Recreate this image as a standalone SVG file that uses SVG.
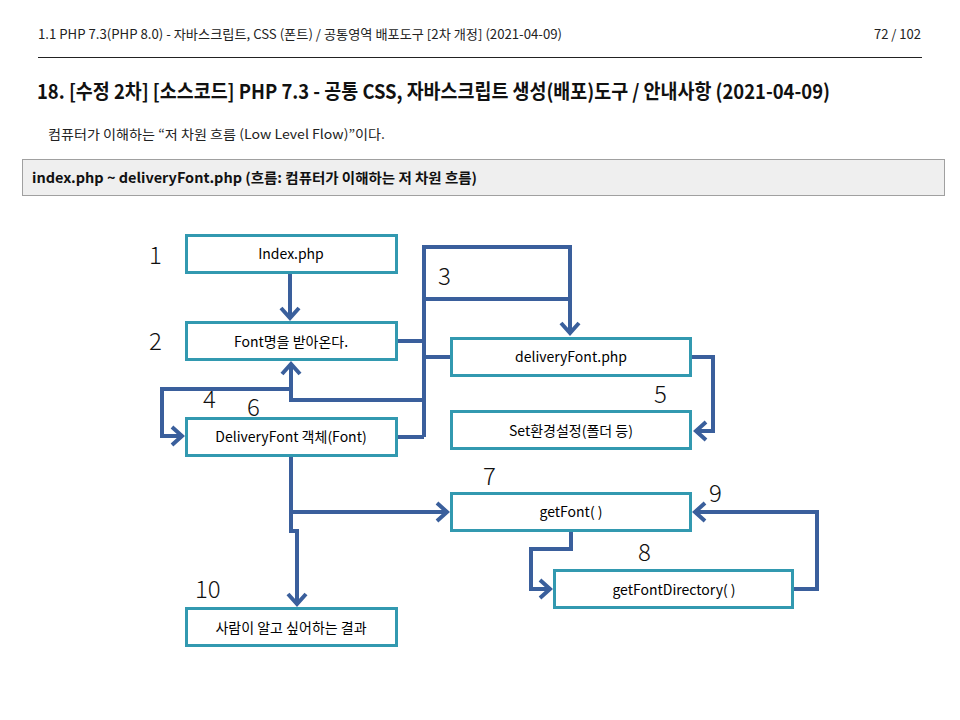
<svg xmlns="http://www.w3.org/2000/svg" width="960" height="720" viewBox="0 0 960 720">
<style>
.hdr{font-family:"Noto Sans CJK KR","Liberation Sans",sans-serif;font-size:13px;fill:#222;}
.title{font-family:"Noto Sans CJK KR","Liberation Sans",sans-serif;font-size:20px;font-weight:bold;fill:#111;}
.box{fill:#fff;stroke:#3299b0;stroke-width:3;}
.lbl{font-family:"Noto Sans CJK KR","Liberation Sans",sans-serif;font-size:14px;font-weight:normal;fill:#000;text-anchor:middle;}
.num{font-family:"Noto Sans CJK KR","Liberation Sans",sans-serif;font-size:24px;font-weight:300;fill:#111;}
.con{fill:none;stroke:#3a5f9c;stroke-width:4;stroke-linejoin:miter;}
</style>
<defs>
<marker id="ah" markerUnits="userSpaceOnUse" markerWidth="24" markerHeight="24" viewBox="-14 -12 18 24" refX="0" refY="0" orient="auto">
<path d="M-10,-9 L0,0 L-10,9" fill="none" stroke="#3a5f9c" stroke-width="4"/>
</marker>
</defs>
<rect width="960" height="720" fill="#fff"/>
<text class="hdr" x="38" y="39" textLength="524" lengthAdjust="spacingAndGlyphs">1.1 PHP 7.3(PHP 8.0) - 자바스크립트, CSS (폰트) / 공통영역 배포도구 [2차 개정] (2021-04-09)</text>
<text class="hdr" x="921" y="39" text-anchor="end">72 / 102</text>
<line x1="38" y1="57.5" x2="922" y2="57.5" stroke="#222" stroke-width="1"/>
<text class="title" x="37" y="99" textLength="793" lengthAdjust="spacingAndGlyphs">18. [수정 2차] [소스코드] PHP 7.3 - 공통 CSS, 자바스크립트 생성(배포)도구 / 안내사항 (2021-04-09)</text>
<text class="hdr" x="48" y="139" textLength="337" lengthAdjust="spacingAndGlyphs">컴퓨터가 이해하는 “저 차원 흐름 (Low Level Flow)”이다.</text>
<rect x="22.5" y="159.5" width="922" height="36" fill="#efefef" stroke="#a0a0a0" stroke-width="1"/>
<text x="32" y="183" style="font-family:'Noto Sans CJK KR','Liberation Sans',sans-serif;font-size:14px;font-weight:bold;fill:#111" textLength="445" lengthAdjust="spacingAndGlyphs">index.php ~ deliveryFont.php (흐름: 컴퓨터가 이해하는 저 차원 흐름)</text>

<g id="connectors">
<path class="con" d="M290,274 L290,318" marker-end="url(#ah)"/>
<path class="con" d="M397,341 L424,341"/>
<path class="con" d="M424,437 L424,247 L570,247 L570,333" marker-end="url(#ah)"/>
<path class="con" d="M424,299 L570,299"/>
<path class="con" d="M424,357 L451,357"/>
<path class="con" d="M397,437 L424,437"/>
<path class="con" d="M424,400 L291,400 L291,364" marker-end="url(#ah)"/>
<path class="con" d="M291,389 L162,389 L162,436 L182,436" marker-end="url(#ah)"/>
<path class="con" d="M692,357 L713,357 L713,431 L696,431" marker-end="url(#ah)"/>
<path class="con" d="M291,457 L291,512 L447,512" marker-end="url(#ah)"/>
<path class="con" d="M291,510 L291,531 L297,531 L297,604" marker-end="url(#ah)"/>
<path class="con" d="M571,531 L571,549 L531,549 L531,589 L550,589" marker-end="url(#ah)"/>
<path class="con" d="M793,589 L817,589 L817,512 L695,512" marker-end="url(#ah)"/>
</g>

<g id="n1"><rect class="box" x="186.5" y="235.5" width="210" height="37"/><text class="lbl" x="291" y="259">Index.php</text></g>
<g id="n2"><rect class="box" x="186.5" y="322.5" width="210" height="37"/><text class="lbl" x="291" y="347">Font명을 받아온다.</text></g>
<g id="n3"><rect class="box" x="451.5" y="338.5" width="239" height="37"/><text class="lbl" x="571" y="362">deliveryFont.php</text></g>
<g id="n4"><rect class="box" x="451.5" y="411.5" width="239" height="37"/><text class="lbl" x="571" y="436">Set환경설정(폴더 등)</text></g>
<g id="n5"><rect class="box" x="186.5" y="418.5" width="210" height="37"/><text class="lbl" x="291" y="442">DeliveryFont 객체(Font)</text></g>
<g id="n6"><rect class="box" x="451.5" y="493.5" width="239" height="37"/><text class="lbl" x="571" y="517">getFont( )</text></g>
<g id="n7"><rect class="box" x="554.5" y="570.5" width="238" height="37"/><text class="lbl" x="674" y="595">getFontDirectory( )</text></g>
<g id="n8"><rect class="box" x="186.5" y="608.5" width="210" height="37"/><text class="lbl" x="291" y="633">사람이 알고 싶어하는 결과</text></g>

<g id="numbers">
<text class="num" x="149" y="264">1</text>
<text class="num" x="149" y="350">2</text>
<text class="num" x="438" y="285">3</text>
<text class="num" x="203" y="408">4</text>
<text class="num" x="654" y="403">5</text>
<text class="num" x="247" y="416">6</text>
<text class="num" x="483" y="485">7</text>
<text class="num" x="638" y="561">8</text>
<text class="num" x="709" y="502">9</text>
<text class="num" x="195" y="598">10</text>
</g>
</svg>
